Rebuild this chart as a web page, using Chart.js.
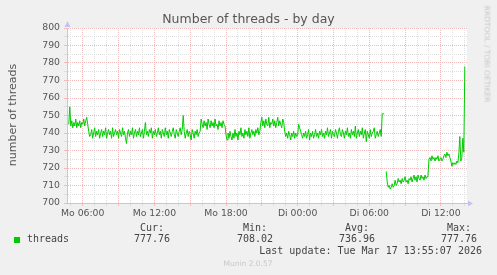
<!DOCTYPE html>
<html>
<head>
<meta charset="utf-8">
<script src="https://cdn.jsdelivr.net/npm/chart.js@4/dist/chart.umd.min.js"></script>
<style>
  html, body { margin:0; padding:0; background:#f0f0f0; }
  #wrap { position:relative; width:497px; height:275px; overflow:hidden; font-family:"DejaVu Sans", sans-serif; }
  #chart { position:absolute; left:0; top:0; }
  .t { position:absolute; white-space:nowrap; }
  .mono { font-family:"DejaVu Sans Mono", monospace; font-size:10px; line-height:12px; color:#444; }
  .c { transform:translateX(-50%); }
</style>
</head>
<body>
<div id="wrap">
  <canvas id="chart" width="497" height="275"></canvas>
  <div class="t" id="title" style="left:0;width:497px;top:12px;text-align:center;font-size:12.5px;line-height:14px;color:#555;">Number of threads - by day</div>
  <div class="t" id="ytitle" style="left:12px;top:115px;font-size:11px;line-height:13px;color:#555;transform:translate(-50%,-50%) rotate(-90deg);">number of threads</div>
  <div class="t" id="rrd" style="left:487px;top:54px;font-size:7.5px;line-height:9px;color:#c8c8c8;transform:translate(-50%,-50%) rotate(90deg);">RRDTOOL / TOBI OETIKER</div>
  <div class="t" id="swatch" style="left:14px;top:237px;width:6px;height:6px;background:#00cc00;"></div>
  <div class="t mono" style="left:27px;top:233px;">threads</div>
  <div class="t mono" style="right:15px;top:245px;">Last update: Tue Mar 17 13:55:07 2026</div>
  <div class="t c" style="left:248px;top:259px;font-size:7.5px;line-height:10px;color:#c8c8c8;">Munin 2.0.57</div>
</div>
<script>
// ---------- DATA ----------
// one sample every 5 minutes, minutes counted from Mo 00:00
const startMinute = 290;
const stepMinutes = 5;

const blockA = [745,755,744,747,743,746,744,748,743,746,744,747,743,746,745,748,744,747,749,745];
const flatB = [
  741,738,739,742,737,740,743,738,741,739,
  742,737,740,742,738,741,739,743,737,740,
  742,739,741,737,743,738,740,742,739,741,
  737,742,740,738,743,739,741,737,734,740,
  742,738,741,739,743,737,740,742,738,741,
  739,743,738,740,742,737,741,746,739,741,
  738,742,740,743,737,741,739,742,738,740,
  743,739,741,737,742,740,738,743,739,741,
  737,742,740,738,741,743,739,737,742,740,
  738,741,743,739,742,750,741,737,740,742,
  738,741,739,736,742,740,737,741,739,742,
  738,740,741
];
const blockC = [748,745,743,747,744,746,742,748,745,743,747,744,746,743,748,744,745,742,747,744,746,743,747,745,744];
const flatD = [739,736,740,737,741,738,736,740,737,742,738,740,736,741,739,743,738,740,737,742,739,741,738,743,737,740,742,739,741,738,742,740,743,739,741];
const blockE = [746,749,744,747,743,748,745,744,749,743,746,745,748,744,747,743,746,749,744,747,745,743,748,746];
const flatF = [
  741,738,740,737,741,739,736,740,738,741,737,740,738,739,745,743,741,739,737,740,
  738,741,737,739,742,736,740,738,741,737,739,742,738,740,737,741,739,742,738,740,
  737,741,739,743,738,740,742,737,741,739,738,742,740,737,741,743,739,738,742,740,
  737,741,739,743,738,740,737,742,739,741,738,744,737,740,742,738,741,739,743,737,
  740,742,735,741,739,737,742,738,740,741,743,737,739,741,738,740,742,738
];
const stepG = [751,751,751];
const restartH = [
  718,712,709,710,708,709,711,709,710,713,
  710,711,714,712,713,711,714,712,713,715,
  712,713,711,714,713,715,712,714,716,713,
  715,712,716,714,713,716,714,715,713,716,
  714,715,716,
  725,726,724,727,725,726,724,726,725,727,
  724,725,726,724,725,727,728,726,729,727,
  728,726,724,721,723,722,723,722,724,723,
  728,738,724,726,737,729,778
];
const threads = [].concat(blockA, flatB, blockC, flatD, blockE, flatF, stepG, [null], restartH);

const xMin = 281, xMax = 2291;
const xLabelMinutes = [360, 720, 1080, 1440, 1800, 2160];
const xLabels = ['Mo 06:00', 'Mo 12:00', 'Mo 18:00', 'Di 00:00', 'Di 06:00', 'Di 12:00'];
const yMin = 700, yMax = 800;

const statNames = ['Cur:', 'Min:', 'Avg:', 'Max:'];
const statValues = ['777.76', '708.02', '736.96', '777.76'];
const statCenters = [152, 255, 357, 459];

// ---------- legend text ----------
const wrap = document.getElementById('wrap');
statNames.forEach((n, i) => {
  const a = document.createElement('div');
  a.className = 't mono c'; a.style.left = statCenters[i] + 'px'; a.style.top = '222px'; a.textContent = n;
  wrap.appendChild(a);
  const b = document.createElement('div');
  b.className = 't mono c'; b.style.left = statCenters[i] + 'px'; b.style.top = '233px'; b.textContent = statValues[i];
  wrap.appendChild(b);
});

// ---------- chart ----------
const axisColor = '#c4c4f4';
const majorGrid = '#f3bcbc';
const minorGrid = '#dedede';

const hourMarks = [];
for (let m = 300; m < xMax; m += 60) hourMarks.push(m);
const fiveMarks = [];
for (let v = yMin; v <= yMax; v += 5) fiveMarks.push(v);

const plotBg = {
  id: 'plotBg',
  beforeDraw(chart) {
    const a = chart.chartArea, c = chart.ctx;
    c.save(); c.fillStyle = '#ffffff';
    c.fillRect(a.left, a.top, a.right - a.left, a.bottom - a.top);
    c.restore();
  }
};

const axisArrows = {
  id: 'axisArrows',
  afterDraw(chart) {
    const a = chart.chartArea, c = chart.ctx;
    const x0 = Math.round(a.left) + 0.5, y0 = Math.round(a.bottom) + 0.5;
    c.save();
    c.strokeStyle = axisColor; c.fillStyle = axisColor; c.lineWidth = 1;
    c.beginPath(); c.moveTo(a.right, y0); c.lineTo(a.right + 3, y0); c.stroke();
    c.beginPath(); c.moveTo(a.right + 6, y0); c.lineTo(a.right + 1, y0 - 3); c.lineTo(a.right + 1, y0 + 3); c.closePath(); c.fill();
    c.beginPath(); c.moveTo(x0, a.top - 7); c.lineTo(x0 - 3, a.top - 1); c.lineTo(x0 + 3, a.top - 1); c.closePath(); c.fill();
    c.restore();
  }
};

const tickFont = { family: 'DejaVu Sans', size: 9.3 };

new Chart(document.getElementById('chart'), {
  type: 'line',
  data: {
    datasets: [{
      label: 'threads',
      data: threads.map((v, i) => ({ x: startMinute + i * stepMinutes, y: v })),
      borderColor: '#00cc00',
      borderWidth: 1,
      pointRadius: 0,
      tension: 0,
      spanGaps: false
    }]
  },
  options: {
    responsive: false,
    animation: false,
    events: [],
    layout: { padding: { left: 0, top: 28, right: 30, bottom: 52 } },
    plugins: { legend: { display: false }, tooltip: { enabled: false } },
    scales: {
      x: {
        type: 'linear', min: xMin, max: xMax,
        afterBuildTicks(s) { s.ticks = hourMarks.map(v => ({ value: v })); },
        afterFit(s) { s.height = 20; },
        ticks: {
          autoSkip: false, maxRotation: 0, padding: 2, color: '#555', font: tickFont,
          callback(v) { const k = xLabelMinutes.indexOf(v); return k < 0 ? '' : xLabels[k]; }
        },
        grid: {
          color: c => (c.tick && c.tick.value % 180 === 0) ? majorGrid : minorGrid,
          tickLength: 3
        },
        border: { color: axisColor, dash: [1, 1] }
      },
      y: {
        min: yMin, max: yMax,
        afterBuildTicks(s) { s.ticks = fiveMarks.map(v => ({ value: v })); },
        afterFit(s) { s.width = 67; },
        ticks: {
          autoSkip: false, padding: 4, color: '#555', font: tickFont,
          callback(v) { return v % 10 === 0 ? String(v) : ''; }
        },
        grid: {
          color: c => (c.tick && c.tick.value % 10 === 0) ? majorGrid : minorGrid,
          tickLength: 3
        },
        border: { color: axisColor, dash: [1, 1] }
      }
    }
  },
  plugins: [plotBg, axisArrows]
});
</script>
</body>
</html>
